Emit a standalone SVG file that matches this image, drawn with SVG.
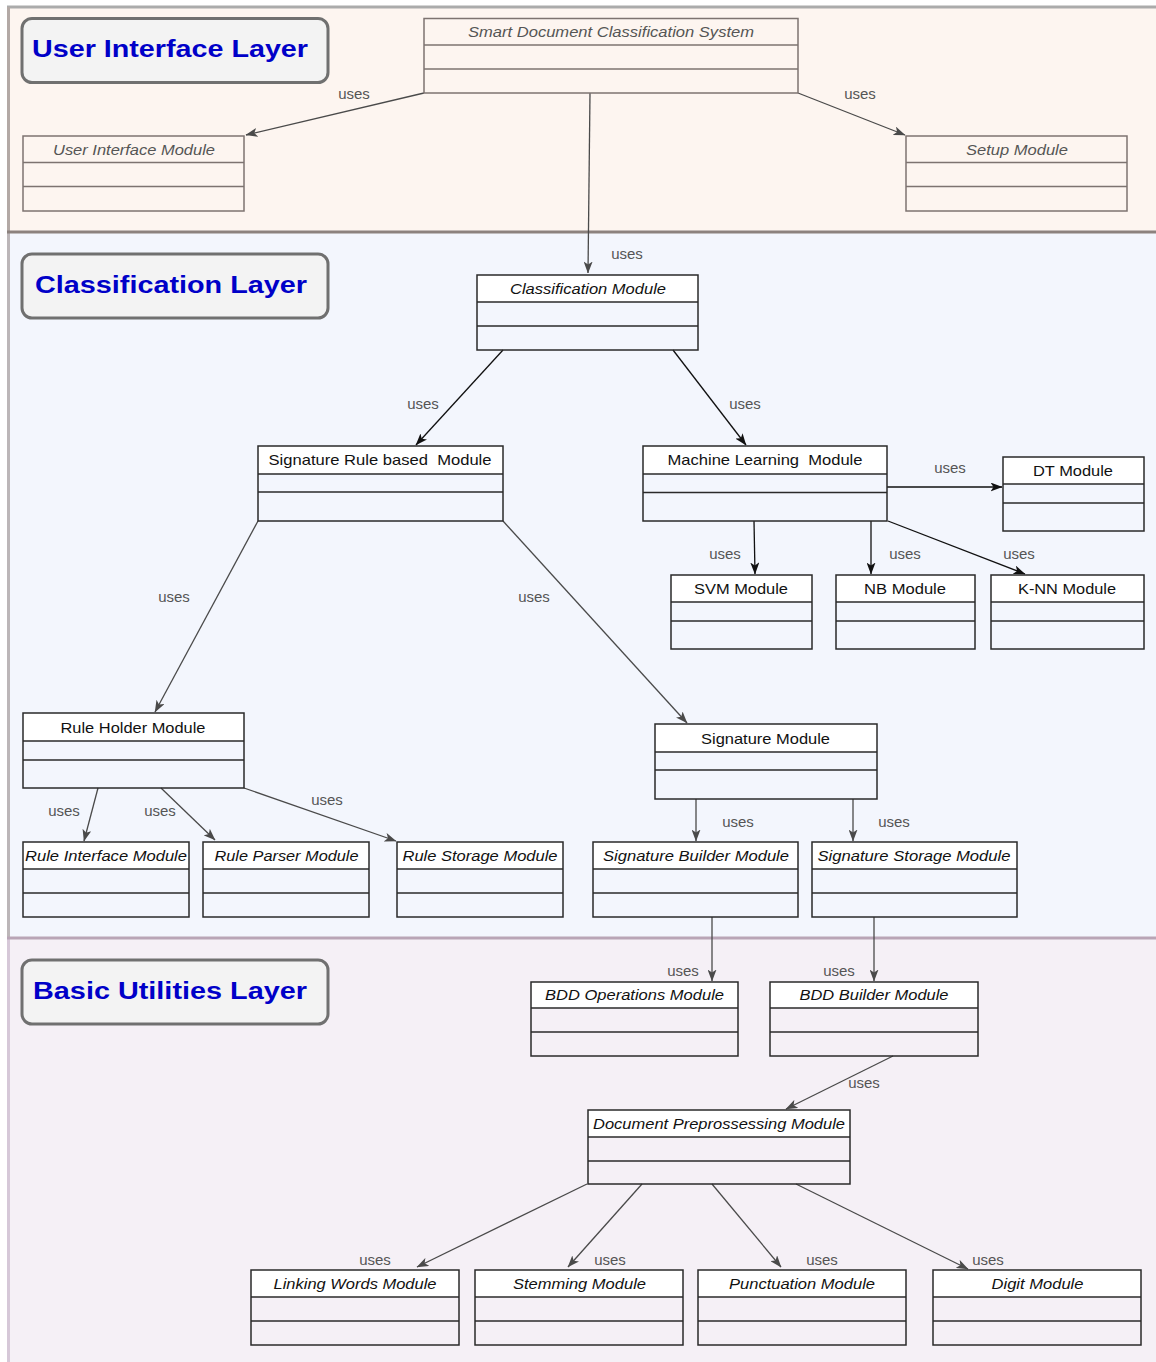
<svg xmlns="http://www.w3.org/2000/svg" width="1156" height="1362" viewBox="0 0 1156 1362">
  <defs>
    <style>
      .t { font-family: "Liberation Sans", Arial, sans-serif; font-size: 15px; text-anchor: middle; fill: #111; white-space: pre; }
      .it { font-style: italic; }
      .ui .t { fill: #555; }
      .frame { fill: none; stroke: #2a2a2a; stroke-width: 1.5; }
      .ui .frame { stroke: #7d7370; }
      .head { fill: #ffffff; }
      .ui .head { fill: none; }
      .div { stroke: #2a2a2a; stroke-width: 1.3; }
      .ui .div { stroke: #7d7370; }
      .layer-label { fill: #f3f3f3; stroke: #707070; stroke-width: 3; }
      .layer-title { font-family: "Liberation Sans", Arial, sans-serif; font-size: 23px; font-weight: bold; fill: #0000c8; }
      .edge { fill: none; stroke: #4a4a4a; stroke-width: 1.3; marker-end: url(#arrowGray); }
      .edge.dark { stroke: #111; marker-end: url(#arrowBlack); }
      .uses { font-family: "Liberation Sans", Arial, sans-serif; font-size: 15px; text-anchor: middle; fill: #555; }
    </style>
    <marker id="arrowGray" viewBox="0 0 12 9" refX="11.5" refY="4.5" markerWidth="12" markerHeight="9" markerUnits="userSpaceOnUse" orient="auto">
      <path d="M0,0 L12,4.5 L0,9 L3,4.5 z" fill="#4a4a4a"/>
    </marker>
    <marker id="arrowBlack" viewBox="0 0 12 9" refX="11.5" refY="4.5" markerWidth="12" markerHeight="9" markerUnits="userSpaceOnUse" orient="auto">
      <path d="M0,0 L12,4.5 L0,9 L3,4.5 z" fill="#111"/>
    </marker>
  </defs>

  <!-- layer bands -->
  <g id="layers">
    <rect x="0" y="0" width="1156" height="1362" fill="#ffffff"/>
    <rect x="8" y="7" width="1148" height="225" fill="#fdf5f0"/>
    <rect x="8" y="232" width="1148" height="706" fill="#f3f6fd"/>
    <rect x="8" y="938" width="1148" height="424" fill="#f5f0f6"/>
    <line x1="7" y1="7" x2="1156" y2="7" stroke="#ababab" stroke-width="3"/>
    <line x1="8.5" y1="7" x2="8.5" y2="232" stroke="#b3a9a5" stroke-width="3"/>
    <line x1="8.5" y1="232" x2="8.5" y2="938" stroke="#bcb6b8" stroke-width="3"/>
    <line x1="8.5" y1="938" x2="8.5" y2="1362" stroke="#d6c8d8" stroke-width="3"/>
    <line x1="7" y1="232" x2="1156" y2="232" stroke="#8c827e" stroke-width="3"/>
    <line x1="7" y1="938" x2="1156" y2="938" stroke="#b9a5b6" stroke-width="3"/>
  </g>

  <!-- layer captions -->
  <g id="label-ui">
    <rect class="layer-label" x="22" y="18.5" width="306" height="64" rx="10"/>
    <text class="layer-title" x="32" y="57" textLength="276" lengthAdjust="spacingAndGlyphs">User Interface Layer</text>
  </g>
  <g id="label-classification">
    <rect class="layer-label" x="22" y="254" width="306" height="64" rx="10"/>
    <text class="layer-title" x="35" y="293" textLength="272" lengthAdjust="spacingAndGlyphs">Classification Layer</text>
  </g>
  <g id="label-utilities">
    <rect class="layer-label" x="22" y="960" width="306" height="64" rx="10"/>
    <text class="layer-title" x="33" y="999" textLength="274" lengthAdjust="spacingAndGlyphs">Basic Utilities Layer</text>
  </g>

  <!-- connectors -->
  <g id="connectors">
    <path class="edge" d="M424,93 L246,135"/>
    <text class="uses" x="354" y="99">uses</text>
    <path class="edge" d="M798,93 L905,135"/>
    <text class="uses" x="860" y="99">uses</text>
    <path class="edge" d="M590,93 L588,273"/>
    <text class="uses" x="627" y="259">uses</text>

    <path class="edge dark" d="M503,350 L416,445"/>
    <text class="uses" x="423" y="409">uses</text>
    <path class="edge dark" d="M673,350 L746,445"/>
    <text class="uses" x="745" y="409">uses</text>

    <path class="edge dark" d="M887,487 L1002,487"/>
    <text class="uses" x="950" y="473">uses</text>
    <path class="edge dark" d="M754,521 L755,574"/>
    <text class="uses" x="725" y="559">uses</text>
    <path class="edge dark" d="M871,521 L871,574"/>
    <text class="uses" x="905" y="559">uses</text>
    <path class="edge dark" d="M888,521 L1025,574"/>
    <text class="uses" x="1019" y="559">uses</text>

    <path class="edge" d="M258,521 L155,712"/>
    <text class="uses" x="174" y="602">uses</text>
    <path class="edge" d="M503,521 L687,723"/>
    <text class="uses" x="534" y="602">uses</text>

    <path class="edge" d="M98,788 L84,841"/>
    <text class="uses" x="64" y="816">uses</text>
    <path class="edge" d="M161,788 L215,840"/>
    <text class="uses" x="160" y="816">uses</text>
    <path class="edge" d="M244,788 L396,841"/>
    <text class="uses" x="327" y="805">uses</text>

    <path class="edge" d="M696,799 L696,841"/>
    <text class="uses" x="738" y="827">uses</text>
    <path class="edge" d="M853,799 L853,841"/>
    <text class="uses" x="894" y="827">uses</text>

    <path class="edge" d="M712,917 L712,981"/>
    <text class="uses" x="683" y="976">uses</text>
    <path class="edge" d="M874,917 L874,981"/>
    <text class="uses" x="839" y="976">uses</text>

    <path class="edge" d="M893,1056 L786,1109"/>
    <text class="uses" x="864" y="1088">uses</text>

    <path class="edge" d="M587,1184 L417,1267"/>
    <text class="uses" x="375" y="1265">uses</text>
    <path class="edge" d="M642,1184 L568,1267"/>
    <text class="uses" x="610" y="1265">uses</text>
    <path class="edge" d="M712,1184 L781,1267"/>
    <text class="uses" x="822" y="1265">uses</text>
    <path class="edge" d="M796,1184 L968,1269"/>
    <text class="uses" x="988" y="1265">uses</text>
  </g>

  <!-- user interface layer modules -->
  <g class="ui">
    <g id="smart-document-classification-system">
      <rect class="frame" x="424" y="18.5" width="374" height="74.5"/>
      <line class="div" x1="424" y1="45" x2="798" y2="45"/>
      <line class="div" x1="424" y1="69" x2="798" y2="69"/>
      <text class="t it" x="611" y="37" textLength="286" lengthAdjust="spacingAndGlyphs">Smart Document Classification System</text>
    </g>
    <g id="user-interface-module">
      <rect class="frame" x="23" y="136" width="221" height="75"/>
      <line class="div" x1="23" y1="162.5" x2="244" y2="162.5"/>
      <line class="div" x1="23" y1="186.5" x2="244" y2="186.5"/>
      <text class="t it" x="134" y="155" textLength="162" lengthAdjust="spacingAndGlyphs">User Interface Module</text>
    </g>
    <g id="setup-module">
      <rect class="frame" x="906" y="136" width="221" height="75"/>
      <line class="div" x1="906" y1="162.5" x2="1127" y2="162.5"/>
      <line class="div" x1="906" y1="186.5" x2="1127" y2="186.5"/>
      <text class="t it" x="1017" y="155" textLength="102" lengthAdjust="spacingAndGlyphs">Setup Module</text>
    </g>
  </g>

  <!-- classification layer modules -->
  <g id="classification-module">
    <rect class="head" x="477" y="275" width="221" height="27"/>
    <rect class="frame" x="477" y="275" width="221" height="75"/>
    <line class="div" x1="477" y1="302" x2="698" y2="302"/>
    <line class="div" x1="477" y1="326" x2="698" y2="326"/>
    <text class="t it" x="588" y="294" textLength="156" lengthAdjust="spacingAndGlyphs">Classification Module</text>
  </g>
  <g id="signature-rule-based-module">
    <rect class="head" x="258" y="446" width="245" height="28"/>
    <rect class="frame" x="258" y="446" width="245" height="75"/>
    <line class="div" x1="258" y1="474" x2="503" y2="474"/>
    <line class="div" x1="258" y1="492" x2="503" y2="492"/>
    <text class="t" x="380" y="465" textLength="223" lengthAdjust="spacingAndGlyphs">Signature Rule based  Module</text>
  </g>
  <g id="machine-learning-module">
    <rect class="head" x="643" y="446" width="244" height="28"/>
    <rect class="frame" x="643" y="446" width="244" height="75"/>
    <line class="div" x1="643" y1="474" x2="887" y2="474"/>
    <line class="div" x1="643" y1="492.5" x2="887" y2="492.5"/>
    <text class="t" x="765" y="465" textLength="195" lengthAdjust="spacingAndGlyphs">Machine Learning  Module</text>
  </g>
  <g id="dt-module">
    <rect class="head" x="1003" y="457" width="141" height="27"/>
    <rect class="frame" x="1003" y="457" width="141" height="74"/>
    <line class="div" x1="1003" y1="484" x2="1144" y2="484"/>
    <line class="div" x1="1003" y1="503" x2="1144" y2="503"/>
    <text class="t" x="1073" y="476" textLength="80" lengthAdjust="spacingAndGlyphs">DT Module</text>
  </g>
  <g id="svm-module">
    <rect class="head" x="671" y="575" width="141" height="27"/>
    <rect class="frame" x="671" y="575" width="141" height="74"/>
    <line class="div" x1="671" y1="602" x2="812" y2="602"/>
    <line class="div" x1="671" y1="621" x2="812" y2="621"/>
    <text class="t" x="741" y="594" textLength="94" lengthAdjust="spacingAndGlyphs">SVM Module</text>
  </g>
  <g id="nb-module">
    <rect class="head" x="836" y="575" width="139" height="27"/>
    <rect class="frame" x="836" y="575" width="139" height="74"/>
    <line class="div" x1="836" y1="602" x2="975" y2="602"/>
    <line class="div" x1="836" y1="621" x2="975" y2="621"/>
    <text class="t" x="905" y="594" textLength="82" lengthAdjust="spacingAndGlyphs">NB Module</text>
  </g>
  <g id="knn-module">
    <rect class="head" x="991" y="575" width="153" height="27"/>
    <rect class="frame" x="991" y="575" width="153" height="74"/>
    <line class="div" x1="991" y1="602" x2="1144" y2="602"/>
    <line class="div" x1="991" y1="621" x2="1144" y2="621"/>
    <text class="t" x="1067" y="594" textLength="98" lengthAdjust="spacingAndGlyphs">K-NN Module</text>
  </g>
  <g id="rule-holder-module">
    <rect class="head" x="23" y="713" width="221" height="28"/>
    <rect class="frame" x="23" y="713" width="221" height="75"/>
    <line class="div" x1="23" y1="741" x2="244" y2="741"/>
    <line class="div" x1="23" y1="760" x2="244" y2="760"/>
    <text class="t" x="133" y="733" textLength="145" lengthAdjust="spacingAndGlyphs">Rule Holder Module</text>
  </g>
  <g id="signature-module">
    <rect class="head" x="655" y="724" width="222" height="28"/>
    <rect class="frame" x="655" y="724" width="222" height="75"/>
    <line class="div" x1="655" y1="752" x2="877" y2="752"/>
    <line class="div" x1="655" y1="770" x2="877" y2="770"/>
    <text class="t" x="765.5" y="744" textLength="129" lengthAdjust="spacingAndGlyphs">Signature Module</text>
  </g>
  <g id="rule-interface-module">
    <rect class="head" x="23" y="842" width="166" height="27"/>
    <rect class="frame" x="23" y="842" width="166" height="75"/>
    <line class="div" x1="23" y1="869" x2="189" y2="869"/>
    <line class="div" x1="23" y1="893" x2="189" y2="893"/>
    <text class="t it" x="106" y="861" textLength="162" lengthAdjust="spacingAndGlyphs">Rule Interface Module</text>
  </g>
  <g id="rule-parser-module">
    <rect class="head" x="203" y="842" width="166" height="27"/>
    <rect class="frame" x="203" y="842" width="166" height="75"/>
    <line class="div" x1="203" y1="869" x2="369" y2="869"/>
    <line class="div" x1="203" y1="893" x2="369" y2="893"/>
    <text class="t it" x="286.5" y="861" textLength="144" lengthAdjust="spacingAndGlyphs">Rule Parser Module</text>
  </g>
  <g id="rule-storage-module">
    <rect class="head" x="397" y="842" width="166" height="27"/>
    <rect class="frame" x="397" y="842" width="166" height="75"/>
    <line class="div" x1="397" y1="869" x2="563" y2="869"/>
    <line class="div" x1="397" y1="893" x2="563" y2="893"/>
    <text class="t it" x="480" y="861" textLength="155" lengthAdjust="spacingAndGlyphs">Rule Storage Module</text>
  </g>
  <g id="signature-builder-module">
    <rect class="head" x="593" y="842" width="205" height="27"/>
    <rect class="frame" x="593" y="842" width="205" height="75"/>
    <line class="div" x1="593" y1="869" x2="798" y2="869"/>
    <line class="div" x1="593" y1="893" x2="798" y2="893"/>
    <text class="t it" x="696" y="861" textLength="186" lengthAdjust="spacingAndGlyphs">Signature Builder Module</text>
  </g>
  <g id="signature-storage-module">
    <rect class="head" x="812" y="842" width="205" height="27"/>
    <rect class="frame" x="812" y="842" width="205" height="75"/>
    <line class="div" x1="812" y1="869" x2="1017" y2="869"/>
    <line class="div" x1="812" y1="893" x2="1017" y2="893"/>
    <text class="t it" x="914" y="861" textLength="193" lengthAdjust="spacingAndGlyphs">Signature Storage Module</text>
  </g>

  <!-- basic utilities layer modules -->
  <g id="bdd-operations-module">
    <rect class="head" x="531" y="982" width="207" height="26"/>
    <rect class="frame" x="531" y="982" width="207" height="74"/>
    <line class="div" x1="531" y1="1008" x2="738" y2="1008"/>
    <line class="div" x1="531" y1="1032" x2="738" y2="1032"/>
    <text class="t it" x="634.5" y="1000" textLength="179" lengthAdjust="spacingAndGlyphs">BDD Operations Module</text>
  </g>
  <g id="bdd-builder-module">
    <rect class="head" x="770" y="982" width="208" height="26"/>
    <rect class="frame" x="770" y="982" width="208" height="74"/>
    <line class="div" x1="770" y1="1008" x2="978" y2="1008"/>
    <line class="div" x1="770" y1="1032" x2="978" y2="1032"/>
    <text class="t it" x="874" y="1000" textLength="149" lengthAdjust="spacingAndGlyphs">BDD Builder Module</text>
  </g>
  <g id="document-preprossessing-module">
    <rect class="head" x="588" y="1110" width="262" height="27"/>
    <rect class="frame" x="588" y="1110" width="262" height="74"/>
    <line class="div" x1="588" y1="1137" x2="850" y2="1137"/>
    <line class="div" x1="588" y1="1161" x2="850" y2="1161"/>
    <text class="t it" x="719" y="1129" textLength="252" lengthAdjust="spacingAndGlyphs">Document Preprossessing Module</text>
  </g>
  <g id="linking-words-module">
    <rect class="head" x="251" y="1270" width="208" height="27"/>
    <rect class="frame" x="251" y="1270" width="208" height="75"/>
    <line class="div" x1="251" y1="1297" x2="459" y2="1297"/>
    <line class="div" x1="251" y1="1321" x2="459" y2="1321"/>
    <text class="t it" x="355" y="1289" textLength="163" lengthAdjust="spacingAndGlyphs">Linking Words Module</text>
  </g>
  <g id="stemming-module">
    <rect class="head" x="475" y="1270" width="208" height="27"/>
    <rect class="frame" x="475" y="1270" width="208" height="75"/>
    <line class="div" x1="475" y1="1297" x2="683" y2="1297"/>
    <line class="div" x1="475" y1="1321" x2="683" y2="1321"/>
    <text class="t it" x="579.5" y="1289" textLength="133" lengthAdjust="spacingAndGlyphs">Stemming Module</text>
  </g>
  <g id="punctuation-module">
    <rect class="head" x="698" y="1270" width="208" height="27"/>
    <rect class="frame" x="698" y="1270" width="208" height="75"/>
    <line class="div" x1="698" y1="1297" x2="906" y2="1297"/>
    <line class="div" x1="698" y1="1321" x2="906" y2="1321"/>
    <text class="t it" x="802" y="1289" textLength="146" lengthAdjust="spacingAndGlyphs">Punctuation Module</text>
  </g>
  <g id="digit-module">
    <rect class="head" x="933" y="1270" width="208" height="27"/>
    <rect class="frame" x="933" y="1270" width="208" height="75"/>
    <line class="div" x1="933" y1="1297" x2="1141" y2="1297"/>
    <line class="div" x1="933" y1="1321" x2="1141" y2="1321"/>
    <text class="t it" x="1037.5" y="1289" textLength="92" lengthAdjust="spacingAndGlyphs">Digit Module</text>
  </g>
</svg>
